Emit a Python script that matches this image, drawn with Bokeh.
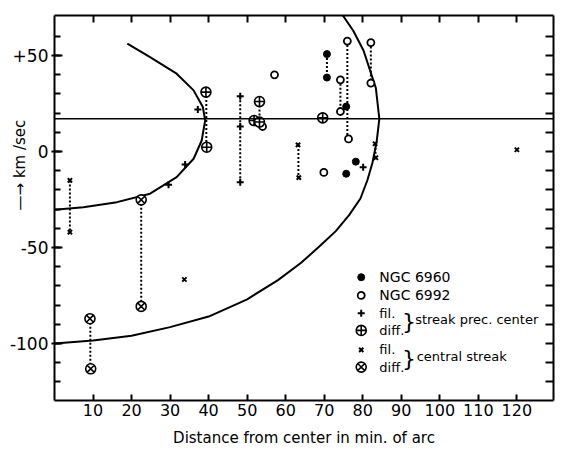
from bokeh.plotting import figure
from bokeh.models import LinearAxis, FixedTicker, Span, Label, Range1d
from bokeh.embed import file_html
from bokeh.resources import INLINE

# ---- data ----
ngc6960_x = [70.7, 70.7, 75.7, 78.2, 75.7]
ngc6960_y = [50.7, 38.5, 23.4, -5.3, -11.6]

ngc6992_x = [57.1, 69.9, 74.2, 74.2, 76.0, 76.3, 82.1, 82.1, 54.0]
ngc6992_y = [39.9, -10.9, 37.3, 20.8, 57.5, 6.5, 56.7, 35.6, 13.0]

fil_prec_x = [29.6, 33.9, 37.2, 48.2, 48.2, 48.2, 80.1]
fil_prec_y = [-17.4, -6.8, 21.9, 28.8, 13.0, -16.0, -8.2]

diff_prec_x = [39.3, 39.5, 53.2, 51.8, 53.2, 69.6]
diff_prec_y = [30.9, 2.2, 26.0, 16.1, 15.3, 17.5]

fil_cent_x = [4.0, 4.0, 33.7, 63.2, 63.4, 83.2, 83.4, 120.0]
fil_cent_y = [-15.1, -42.0, -66.7, 3.4, -13.6, 4.0, -3.3, 0.9]

diff_cent_x = [22.5, 22.5, 9.2, 9.4]
diff_cent_y = [-25.2, -80.7, -87.1, -113.2]

# dotted connections (x, y top, y bottom)
conn_x = [4.0, 9.3, 22.5, 39.4, 48.2, 53.2, 63.3, 70.7, 74.2, 76.0, 82.1, 83.3]
conn_y0 = [-15.1, -87.1, -25.2, 30.9, 28.8, 26.0, 3.4, 50.7, 37.3, 57.5, 56.7, 4.0]
conn_y1 = [-42.0, -113.2, -80.7, 2.2, -16.0, 15.3, -13.6, 38.5, 20.8, 6.5, 35.6, -3.3]

# systemic velocity line
v_sys = 17

# curves
inner_x = [0, 7.5, 16.2, 24.8, 31.7, 36.1, 38.2, 39.1, 38.5, 36.1, 31.7, 24.8, 18.9]
inner_y = [-30.4, -29.0, -26.4, -22.0, -13.4, -3.8, 5.7, 16.1, 23.1, 31.8, 40.5, 49.1, 56.1]

outer_x = [0, 10, 20, 30, 40, 50, 58, 64, 69, 73, 76.5, 79.4, 81.2, 82.5, 83.6, 84.3,
           83.4, 80.2, 77.5, 74.6]
outer_y = [-100, -98.5, -96, -91.5, -86, -77, -67, -58, -49, -41.5, -33, -24.5, -15, -6, 5, 17,
           33, 52.6, 63, 71.5]

x_ticks = [10, 20, 30, 40, 50, 60, 70, 80, 90, 100, 110, 120, 130]
y_major = [-100, -50, 0, 50]
y_major_labels = ["-100", "-50", "0", "+50"]
y_minor = [-120, -110, -100, -90, -80, -70, -60, -50, -40, -30, -20, -10, 0, 10, 20, 30, 40, 50, 60]

legend_labels = ["NGC 6960", "NGC 6992", "fil.", "diff.", "fil.", "diff."]
brace_labels = ["streak prec. center", "central streak"]

FONT = "DejaVu Sans"

p = figure(width=575, height=451, output_backend="svg", toolbar_location=None,
           x_range=Range1d(0, 129.5), y_range=Range1d(-129.7, 70.8),
           min_border_left=54, min_border_right=22, min_border_top=15, min_border_bottom=51)
p.outline_line_color = None
p.grid.visible = False
p.background_fill_color = "white"

# bottom axis
xa = p.xaxis[0]
xa.ticker = FixedTicker(ticks=x_ticks)
xa.major_tick_in = 6
xa.major_tick_out = 0
xa.minor_tick_in = 0
xa.minor_tick_out = 0
xa.axis_line_width = 2
xa.major_tick_line_width = 2
xa.major_label_standoff = 3
xa.major_label_text_font = FONT
xa.major_label_text_font_size = "16px"
xa.major_label_text_color = "black"
xa.axis_label = "Distance from center in min. of arc"
xa.axis_label_text_font = FONT
xa.axis_label_text_font_style = "normal"
xa.axis_label_text_font_size = "15px"
xa.axis_label_text_color = "black"
xa.axis_label_standoff = 10

# left axis
ya = p.yaxis[0]
ya.ticker = FixedTicker(ticks=y_major, minor_ticks=y_minor)
ya.major_label_overrides = {t: s for t, s in zip(y_major, y_major_labels)}
ya.major_tick_in = 8
ya.major_tick_out = 3
ya.minor_tick_in = 6
ya.minor_tick_out = 0
ya.axis_line_width = 2
ya.major_tick_line_width = 2
ya.minor_tick_line_width = 2
ya.major_label_standoff = 3
ya.major_label_text_font = FONT
ya.major_label_text_font_size = "17px"
ya.major_label_text_color = "black"
ya.axis_label = "\u00a0" * 18 + "\u2014\u2192 km /sec"
ya.axis_label_text_font = FONT
ya.axis_label_text_font_style = "normal"
ya.axis_label_text_font_size = "15px"
ya.axis_label_text_color = "black"
ya.axis_label_standoff = -22

# top axis (ticks only)
ta = LinearAxis(ticker=FixedTicker(ticks=x_ticks[:-1]),
                major_label_overrides={t: "" for t in x_ticks},
                major_label_text_font_size="1px", major_label_standoff=0,
                major_tick_in=7, major_tick_out=0, minor_tick_in=0, minor_tick_out=0,
                axis_line_width=2, major_tick_line_width=2)
p.add_layout(ta, "above")

# right axis (ticks only)
ra = LinearAxis(ticker=FixedTicker(ticks=y_minor),
                major_label_overrides={t: "" for t in y_minor},
                major_label_text_font_size="1px", major_label_standoff=0,
                major_tick_in=8, major_tick_out=0, minor_tick_in=0, minor_tick_out=0,
                axis_line_width=2, major_tick_line_width=2)
p.add_layout(ra, "right")

# systemic line
p.add_layout(Span(location=v_sys, dimension="width", line_color="black", line_width=1.6))

# curves
p.line(inner_x, inner_y, line_color="black", line_width=2)
p.line(outer_x, outer_y, line_color="black", line_width=2)

# dotted connectors
p.segment(x0=conn_x, y0=conn_y0, x1=conn_x, y1=conn_y1,
          line_color="black", line_width=2, line_dash="2 2")

# markers
p.scatter(ngc6960_x, ngc6960_y, marker="circle", size=7, fill_color="black", line_color="black")
p.scatter(ngc6992_x, ngc6992_y, marker="circle", size=7, fill_color="white",
          line_color="black", line_width=1.8)
p.scatter(fil_prec_x, fil_prec_y, marker="cross", size=7, line_color="black", line_width=2)
p.scatter(diff_prec_x, diff_prec_y, marker="circle_cross", size=10, fill_color="white",
          line_color="black", line_width=1.6)
p.scatter(fil_cent_x, fil_cent_y, marker="x", size=6, line_color="black", line_width=2)
p.scatter(diff_cent_x, diff_cent_y, marker="circle_x", size=10, fill_color="white",
          line_color="black", line_width=1.6)

# legend (drawn by hand, as in the original)
leg_mx = 79.6
leg_tx = 84.3
leg_y = [-65.5, -75.0, -84.2, -93.2, -103.3, -112.3]
leg_sizes = ["14px", "14px", "13px", "13px", "13px", "13px"]
p.scatter([leg_mx], [leg_y[0]], marker="circle", size=7, fill_color="black", line_color="black")
p.scatter([leg_mx], [leg_y[1]], marker="circle", size=7, fill_color="white", line_color="black", line_width=1.8)
p.scatter([leg_mx], [leg_y[2]], marker="cross", size=7, line_color="black", line_width=2)
p.scatter([leg_mx], [leg_y[3]], marker="circle_cross", size=10, fill_color="white", line_color="black", line_width=1.6)
p.scatter([leg_mx], [leg_y[4]], marker="x", size=6, line_color="black", line_width=2)
p.scatter([leg_mx], [leg_y[5]], marker="circle_x", size=10, fill_color="white", line_color="black", line_width=1.6)
for txt, yy, fs in zip(legend_labels, leg_y, leg_sizes):
    p.add_layout(Label(x=leg_tx, y=yy, text=txt, text_font=FONT, text_font_size=fs,
                       text_baseline="middle", text_align="left", text_color="black"))
p.add_layout(Label(x=92.0, y=-88.7, text="}", text_font=FONT, text_font_size="22px",
                   text_baseline="middle", text_align="center", text_color="black"))
p.add_layout(Label(x=92.0, y=-107.8, text="}", text_font=FONT, text_font_size="22px",
                   text_baseline="middle", text_align="center", text_color="black"))
p.add_layout(Label(x=93.6, y=-87.5, text=brace_labels[0], text_font=FONT, text_font_size="13px",
                   text_baseline="middle", text_align="left", text_color="black"))
p.add_layout(Label(x=94.0, y=-106.8, text=brace_labels[1], text_font=FONT, text_font_size="13px",
                   text_baseline="middle", text_align="left", text_color="black"))

open("out.html", "w").write(file_html(p, INLINE))
